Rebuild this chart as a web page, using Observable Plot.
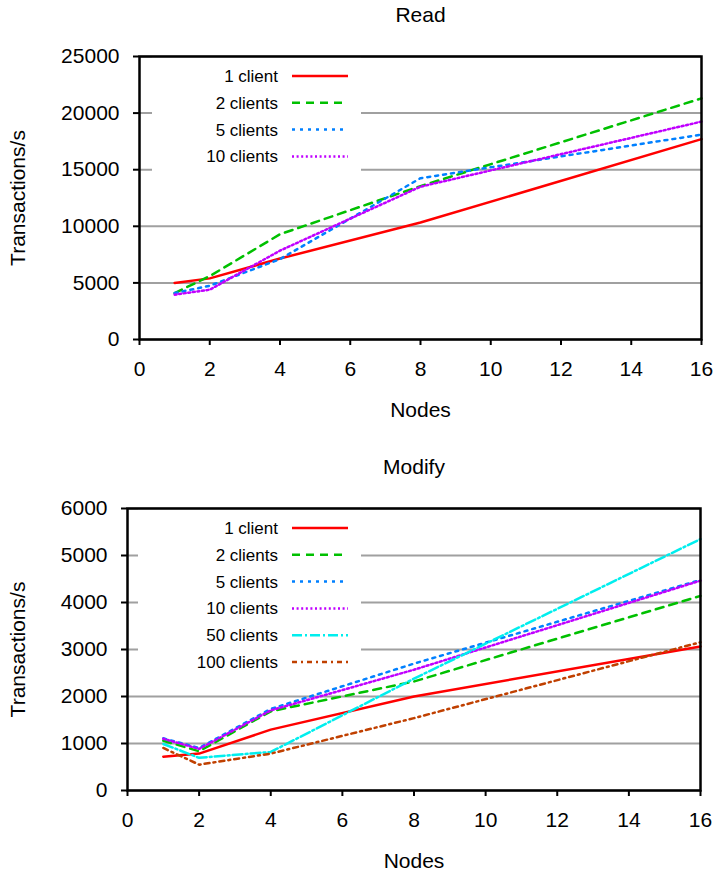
<!DOCTYPE html>
<html><head><meta charset="utf-8">
<script src="https://cdn.jsdelivr.net/npm/d3@7"></script>
<script src="https://cdn.jsdelivr.net/npm/@observablehq/plot@0.6"></script>
<style>
body{margin:0;background:#fff}
#chart{width:718px}
#chart svg{display:block}
</style>
</head><body><div id="chart"></div>
<script>
// ---- data ----
const nodes = [1, 2, 4, 8, 16];
const xTicks = [0, 2, 4, 6, 8, 10, 12, 14, 16];

const readSeries = ["1 client", "2 clients", "5 clients", "10 clients"];
const read1 = [5000, 5400, 7150, 10330, 17700];
const read2 = [4100, 5600, 9300, 13550, 21300];
const read5 = [4100, 4750, 7100, 14250, 18100];
const read10 = [3960, 4400, 7850, 13500, 19250];
const readYTicks = [0, 5000, 10000, 15000, 20000, 25000];

const modifySeries = ["1 client", "2 clients", "5 clients", "10 clients", "50 clients", "100 clients"];
const modify1 = [720, 785, 1295, 2000, 3065];
const modify2 = [1060, 835, 1685, 2320, 4140];
const modify5 = [1110, 905, 1735, 2700, 4480];
const modify10 = [1100, 885, 1705, 2570, 4465];
const modify50 = [990, 695, 820, 2380, 5350];
const modify100 = [905, 550, 785, 1540, 3155];
const modifyYTicks = [0, 1000, 2000, 3000, 4000, 5000, 6000];

// ---- styles ----
const colors = ["#ff0000", "#00c000", "#0080ff", "#c000ff", "#00eeee", "#c04000"];
const dashes = [null, "8,6", "3,5", "2,2.6", "10,3,2,3", "5,4,2,4"];
const FONT = "'Liberation Sans', Arial, Helvetica, sans-serif";

function rowsFor(names, arrays) {
  const rows = [];
  names.forEach((name, i) => nodes.forEach((n, j) => rows.push({series: name, nodes: n, value: arrays[i][j]})));
  return rows;
}

function legendMark(names, boxLeft, boxRight) {
  return (index, scales, values, dims) => {
    const g = d3.create("svg:g");
    const top = dims.marginTop;
    const first = top + 20, step = 26.8;
    const bottom = first + step * (names.length - 1) + 15;
    g.append("rect").attr("x", boxLeft).attr("y", top + 1.5)
      .attr("width", boxRight - boxLeft).attr("height", bottom - top - 1.5).attr("fill", "white");
    names.forEach((n, i) => {
      const y = first + i * step;
      g.append("text").attr("x", 278).attr("y", y).attr("text-anchor", "end")
        .attr("dy", "0.35em").attr("font-size", 17).attr("font-family", FONT).attr("fill", "black").text(n);
      const l = g.append("line").attr("x1", 292).attr("x2", 348).attr("y1", y).attr("y2", y)
        .attr("stroke", colors[i]).attr("stroke-width", 2.5);
      if (dashes[i]) l.attr("stroke-dasharray", dashes[i]);
    });
    return g.node();
  };
}

function panel({title, names, arrays, yTicks, marginLeft, marginRight, marginTop, marginBottom, height, boxLeft}) {
  const rows = rowsFor(names, arrays);
  const lines = names.map((name, i) => Plot.line(rows.filter(d => d.series === name), {
    x: "nodes", y: "value", stroke: colors[i], strokeWidth: 2.5, strokeLinejoin: "round",
    strokeDasharray: dashes[i] || undefined, curve: "linear"
  }));
  return Plot.plot({
    width: 718, height, marginLeft, marginRight, marginTop, marginBottom,
    style: {fontFamily: FONT, fontSize: "21px", color: "black", background: "white", overflow: "visible"},
    x: {domain: [0, 16]},
    y: {domain: [yTicks[0], yTicks[yTicks.length - 1]]},
    marks: [
      Plot.gridY(yTicks, {stroke: "#a0a0a0", strokeOpacity: 1, strokeWidth: 2}),
      legendMark(names, boxLeft, 361),
      ...lines,
      Plot.frame({stroke: "black", strokeWidth: 2.5}),
      Plot.axisX(xTicks, {tickSize: 6, tickPadding: 16, strokeWidth: 2, fontSize: 21, label: null, tickFormat: d3.format("d")}),
      Plot.axisY(yTicks, {tickSize: 6, tickPadding: 14, strokeWidth: 2, fontSize: 21, label: null, tickFormat: d3.format("d")}),
      Plot.text([title], {text: d => d, frameAnchor: "top", dy: -41, lineAnchor: "middle", fontSize: 21}),
      Plot.text(["Nodes"], {text: d => d, frameAnchor: "bottom", dy: 71, lineAnchor: "middle", fontSize: 21}),
      Plot.text(["Transactions/s"], {text: d => d, frameAnchor: "left", dx: -(marginLeft - 18), rotate: -90, textAnchor: "middle", lineAnchor: "middle", fontSize: 21})
    ]
  });
}

const chart = document.getElementById("chart");
chart.append(panel({
  title: "Read", names: readSeries, arrays: [read1, read2, read5, read10], yTicks: readYTicks,
  marginLeft: 139, marginRight: 17, marginTop: 56, marginBottom: 99, height: 438, boxLeft: 152
}));
chart.append(panel({
  title: "Modify", names: modifySeries, arrays: [modify1, modify2, modify5, modify10, modify50, modify100], yTicks: modifyYTicks,
  marginLeft: 127, marginRight: 18, marginTop: 70, marginBottom: 86, height: 438, boxLeft: 138
}));
</script>
</body></html>
